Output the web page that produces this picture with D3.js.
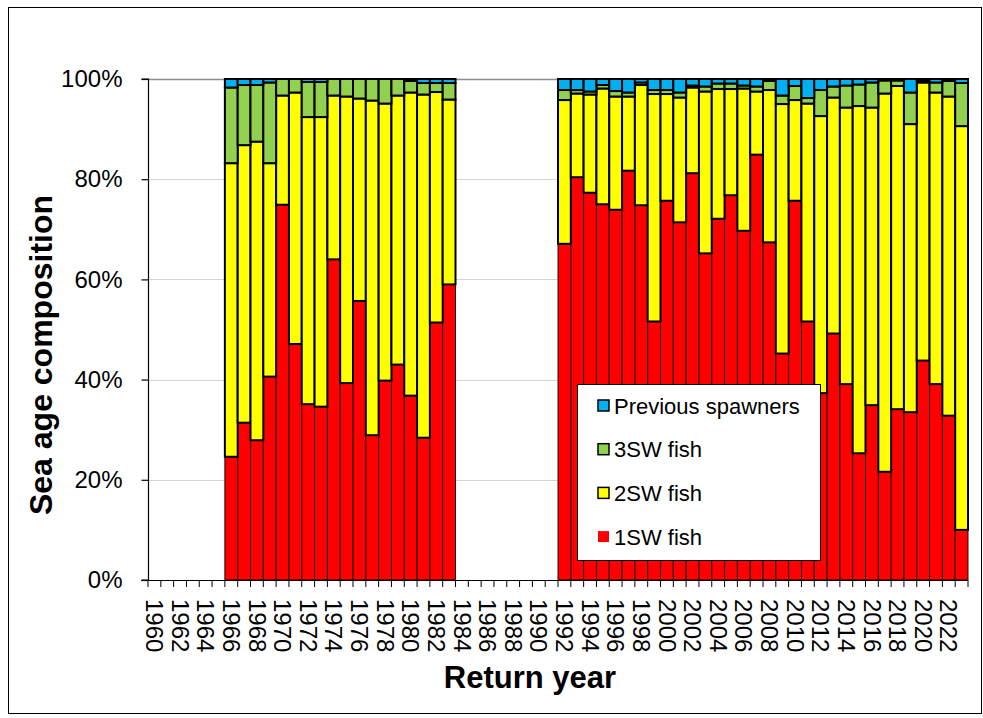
<!DOCTYPE html>
<html>
<head>
<meta charset="utf-8">
<script src="https://cdn.jsdelivr.net/npm/d3@7"></script>
<style>
  body { margin: 0; background: #fff; }
  svg { display: block; font-family: "Liberation Sans", Arial, sans-serif; }
</style>
</head>
<body>
<div class="container"></div>
<script>
const width = 983, height = 718;

// return years (categories)
const years = [1960, 1961, 1962, 1963, 1964, 1965, 1966, 1967, 1968, 1969,
  1970, 1971, 1972, 1973, 1974, 1975, 1976, 1977, 1978, 1979,
  1980, 1981, 1982, 1983, 1984, 1985, 1986, 1987, 1988, 1989,
  1990, 1991, 1992, 1993, 1994, 1995, 1996, 1997, 1998, 1999,
  2000, 2001, 2002, 2003, 2004, 2005, 2006, 2007, 2008, 2009,
  2010, 2011, 2012, 2013, 2014, 2015, 2016, 2017, 2018, 2019,
  2020, 2021, 2022, 2023];

// % of returns, null = no data
const sw1 = [null, null, null, null, null, null, 24.6, 31.4, 27.9, 40.6,
  74.9, 47.1, 35.1, 34.6, 64.0, 39.3, 55.7, 28.9, 39.8, 43.0,
  36.8, 28.4, 51.4, 59.0, null, null, null, null, null, null,
  null, null, 67.1, 80.4, 77.3, 75.0, 73.9, 81.7, 74.8, 51.6,
  75.7, 71.4, 81.2, 65.2, 72.1, 76.8, 69.7, 84.9, 67.4, 45.2,
  75.7, 51.6, 37.3, 49.2, 39.1, 25.3, 34.9, 21.6, 34.1, 33.5,
  43.8, 39.1, 32.8, 10.0];
const sw2 = [null, null, null, null, null, null, 58.6, 55.4, 59.6, 42.6,
  21.8, 50.2, 57.3, 57.8, 32.7, 57.2, 40.4, 66.8, 55.3, 53.7,
  60.5, 68.5, 46.0, 36.9, null, null, null, null, null, null,
  null, null, 28.7, 16.7, 19.6, 23.1, 22.6, 14.8, 24.0, 45.4,
  21.3, 24.9, 17.1, 32.3, 25.9, 21.2, 28.4, 12.6, 30.4, 49.8,
  20.1, 43.5, 55.3, 47.1, 55.2, 69.3, 59.4, 75.5, 64.5, 57.5,
  55.5, 58.2, 63.7, 80.6];
const sw3 = [null, null, null, null, null, null, 15.1, 12.0, 11.3, 16.1,
  3.3, 2.7, 7.0, 7.0, 3.3, 3.5, 3.9, 4.3, 4.9, 3.3,
  2.3, 2.3, 1.8, 3.3, null, null, null, null, null, null,
  null, null, 2.0, 0.7, 0.6, 0.7, 1.1, 0.8, 0.5, 0.8,
  0.8, 1.0, 0.4, 1.0, 1.1, 1.1, 0.6, 1.0, 1.8, 1.7,
  2.8, 1.1, 5.2, 2.2, 4.4, 4.3, 5.0, 2.6, 1.1, 6.3,
  0.4, 2.0, 3.1, 8.6];
const prevSpawners = [null, null, null, null, null, null, 1.7, 1.2, 1.2, 0.7,
  0, 0, 0.6, 0.6, 0, 0, 0, 0, 0, 0,
  0.4, 0.8, 0.8, 0.8, null, null, null, null, null, null,
  null, null, 2.2, 2.2, 2.5, 1.2, 2.4, 2.7, 0.7, 2.2,
  2.2, 2.7, 1.3, 1.5, 0.9, 0.9, 1.3, 1.5, 0.4, 3.3,
  1.4, 3.8, 2.2, 1.5, 1.3, 1.1, 0.7, 0.3, 0.3, 2.7,
  0.3, 0.7, 0.4, 0.8];

const seriesKeys = ["1SW fish", "2SW fish", "3SW fish", "Previous spawners"];
const seriesColors = ["#ff0000", "#ffff00", "#92d050", "#00b0f0"];
const yTicks = [0, 0.2, 0.4, 0.6, 0.8, 1];

const rows = years.map((yr, i) => ({
  year: yr,
  "1SW fish": sw1[i],
  "2SW fish": sw2[i],
  "3SW fish": sw3[i],
  "Previous spawners": prevSpawners[i]
})).filter(d => d["1SW fish"] != null);

// normalise each year to 100%
rows.forEach(d => {
  const tot = d3.sum(seriesKeys, k => d[k]);
  seriesKeys.forEach(k => d[k] = d[k] / tot);
});

const stacked = d3.stack().keys(seriesKeys)(rows);

const x = d3.scaleBand().domain(years).range([148, 968]).padding(0);
const y = d3.scaleLinear().domain([0, 1]).range([580, 79]);
const color = d3.scaleOrdinal(seriesKeys, seriesColors);

const svg = d3.select(".container")
  .append("svg")
  .attr("width", width)
  .attr("height", height);

// outer frame
svg.append("rect")
  .attr("x", 8.5).attr("y", 7.5)
  .attr("width", 973).attr("height", 706)
  .attr("fill", "none").attr("stroke", "#000").attr("stroke-width", 1);

// gridlines
svg.append("g")
  .selectAll("line")
  .data(yTicks.filter(t => t > 0))
  .join("line")
  .attr("x1", 148).attr("x2", 968)
  .attr("y1", d => Math.round(y(d)) + 0.5).attr("y2", d => Math.round(y(d)) + 0.5)
  .attr("stroke", d => d === 1 ? "#8c8c8c" : "#d4d4d4")
  .attr("stroke-width", d => d === 1 ? 1.5 : 1.2);

// bars
svg.append("g")
  .selectAll("g")
  .data(stacked)
  .join("g")
  .attr("fill", d => color(d.key))
  .attr("stroke", "#000")
  .attr("stroke-width", d => d.key === "1SW fish" ? 0.9 : 2)
  .selectAll("rect")
  .data(d => d.filter(s => s[1] - s[0] > 0))
  .join("rect")
  .attr("x", d => x(d.data.year))
  .attr("width", x.bandwidth())
  .attr("y", d => y(d[1]))
  .attr("height", d => y(d[0]) - y(d[1]));

// y axis
const yAxis = svg.append("g")
  .attr("transform", "translate(148.5,0)")
  .call(d3.axisLeft(y).tickValues(yTicks).tickFormat(d3.format(".0%")).tickSize(7).tickPadding(19));
yAxis.select(".domain").attr("stroke", "#000").attr("stroke-width", 1.2);
yAxis.selectAll(".tick line").attr("stroke", "#000").attr("stroke-width", 1.2);
yAxis.selectAll("text").attr("font-size", 24).attr("fill", "#000");
yAxis.select(".domain").attr("d", "M-7," + y(1) + "H0V" + y(0) + "H-7");

// x axis baseline and boundary ticks
svg.append("line")
  .attr("x1", 141).attr("x2", 968)
  .attr("y1", 580.5).attr("y2", 580.5)
  .attr("stroke", "#000").attr("stroke-width", 1.2);
svg.append("g")
  .selectAll("line")
  .data(years.concat([null]))
  .join("line")
  .attr("x1", d => d == null ? 968 : x(d))
  .attr("x2", d => d == null ? 968 : x(d))
  .attr("y1", 580).attr("y2", 587)
  .attr("stroke", "#000").attr("stroke-width", 1);

const xAxis = svg.append("g")
  .attr("transform", "translate(0,580)")
  .call(d3.axisBottom(x).tickValues(years.filter(d => d % 2 === 0)).tickSize(0));
xAxis.select(".domain").remove();
xAxis.selectAll("text")
  .attr("font-size", 24)
  .attr("fill", "#000")
  .attr("text-anchor", "start")
  .attr("transform", "rotate(90)")
  .attr("x", 19)
  .attr("y", 0)
  .attr("dy", "0.35em");

// axis titles
svg.append("text")
  .attr("x", 530).attr("y", 688)
  .attr("text-anchor", "middle")
  .attr("font-size", 31).attr("font-weight", "bold")
  .text("Return year");

svg.append("text")
  .attr("transform", "translate(52,355) rotate(-90)")
  .attr("text-anchor", "middle")
  .attr("font-size", 32).attr("font-weight", "bold")
  .text("Sea age composition");

// legend
const legend = svg.append("g");
legend.append("rect")
  .attr("x", 577.5).attr("y", 384.5)
  .attr("width", 243).attr("height", 176)
  .attr("fill", "#fff").attr("stroke", "#000").attr("stroke-width", 1);

const legendItems = legend.selectAll("g")
  .data(seriesKeys.slice().reverse())
  .join("g")
  .attr("transform", (d, i) => `translate(598,${406 + i * 43.7})`);
legendItems.append("rect")
  .attr("x", 0).attr("y", -6)
  .attr("width", 11).attr("height", 11)
  .attr("fill", d => color(d))
  .attr("stroke", d => d === "1SW fish" ? "none" : "#000")
  .attr("stroke-width", 1.5);
legendItems.append("text")
  .attr("x", 16).attr("y", 0).attr("dy", "0.35em")
  .attr("font-size", 22)
  .text(d => d);
</script>
</body>
</html>
